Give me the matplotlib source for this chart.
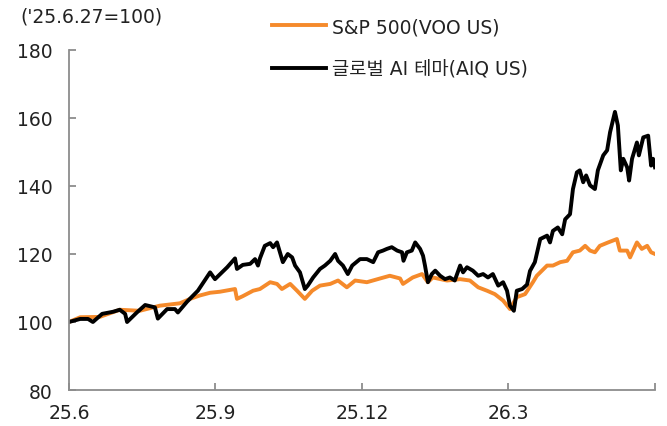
# S&P 500 vs global AI theme ETF, rebased to 100 on 25.6.27

import matplotlib.pyplot as plt

plt.rcParams['font.family'] = ['DejaVu Sans', 'Noto Sans CJK KR']

# data (x = months since 25.6)
# ---

aiq_month = [0.00, 0.23, 0.39, 0.49, 0.68, 0.90, 1.04, 1.15, 1.19, 1.39, 1.56, 1.76,
             1.82, 2.01, 2.17, 2.23, 2.42, 2.64, 2.89, 2.99, 3.24, 3.40, 3.44, 3.56,
             3.71, 3.81, 3.87, 3.91, 4.01, 4.12, 4.18, 4.26, 4.32, 4.38, 4.48, 4.57,
             4.63, 4.73, 4.83, 4.89, 5.00, 5.14, 5.24, 5.35, 5.45, 5.51, 5.61, 5.71,
             5.80, 5.96, 6.10, 6.23, 6.33, 6.43, 6.51, 6.61, 6.72, 6.82, 6.85, 6.92,
             7.02, 7.09, 7.19, 7.25, 7.29, 7.35, 7.43, 7.50, 7.60, 7.70, 7.80, 7.90,
             8.01, 8.07, 8.15, 8.27, 8.38, 8.48, 8.58, 8.68, 8.79, 8.89, 8.97, 9.03,
             9.11, 9.17, 9.28, 9.38, 9.44, 9.54, 9.65, 9.79, 9.85, 9.91, 10.01, 10.10,
             10.16, 10.26, 10.32, 10.40, 10.46, 10.53, 10.59, 10.67, 10.77, 10.83, 10.94, 11.02,
             11.08, 11.18, 11.24, 11.30, 11.35, 11.43, 11.47, 11.53, 11.63, 11.67, 11.76, 11.86,
             11.92, 11.96, 12.00]
aiq_value = [100.0, 100.9, 100.9, 100.0, 102.4, 103.0, 103.6, 102.4, 100.0, 102.8, 105.0, 104.3,
             101.0, 103.8, 103.8, 102.8, 106.0, 109.2, 114.6, 112.6, 116.1, 118.7, 115.6, 116.8,
             117.1, 118.5, 116.6, 118.7, 122.4, 123.2, 122.0, 123.4, 120.5, 117.6, 120.0, 119.0,
             116.6, 114.6, 109.7, 110.7, 113.1, 115.6, 116.6, 118.0, 120.0, 118.0, 116.6, 114.1,
             116.6, 118.5, 118.5, 117.6, 120.5, 121.0, 121.5, 122.0, 121.0, 120.5, 118.0, 120.5,
             121.0, 123.4, 121.5, 119.5, 116.6, 111.7, 114.1, 115.1, 113.6, 112.6, 113.1, 112.2,
             116.6, 114.6, 116.1, 115.1, 113.6, 114.1, 113.1, 114.1, 110.7, 111.7, 109.2, 104.8,
             103.3, 109.2, 109.7, 111.0, 115.0, 117.6, 124.4, 125.4, 123.4, 126.8, 127.8, 125.8,
             130.2, 131.7, 139.1, 144.0, 144.6, 141.1, 143.1, 140.2, 139.1, 144.6, 149.0, 150.5,
             155.8, 161.8, 157.8, 144.6, 148.0, 145.5, 141.6, 148.0, 152.8, 149.0, 154.3, 154.8,
             146.0, 148.0, 145.5]

voo_month = [0.00, 0.23, 0.63, 1.04, 1.45, 1.86, 2.27, 2.48, 2.68, 2.89, 3.09, 3.40,
             3.44, 3.56, 3.77, 3.91, 4.12, 4.26, 4.36, 4.53, 4.67, 4.83, 4.98, 5.14,
             5.35, 5.51, 5.69, 5.86, 6.10, 6.37, 6.57, 6.78, 6.84, 7.04, 7.23, 7.35,
             7.45, 7.74, 8.01, 8.21, 8.38, 8.56, 8.72, 8.89, 9.03, 9.17, 9.34, 9.50,
             9.58, 9.79, 9.91, 10.06, 10.20, 10.32, 10.46, 10.57, 10.67, 10.77, 10.87, 11.04,
             11.22, 11.28, 11.43, 11.49, 11.63, 11.73, 11.84, 11.92, 12.00]
voo_value = [100.0, 101.4, 101.5, 103.6, 103.3, 104.8, 105.5, 106.8, 107.8, 108.6, 108.9, 109.7,
             106.8, 107.6, 109.2, 109.7, 111.7, 111.2, 109.7, 111.2, 109.2, 106.8, 109.2, 110.7,
             111.2, 112.2, 110.2, 112.2, 111.7, 112.8, 113.6, 112.8, 111.2, 113.1, 114.1, 111.7,
             113.1, 112.2, 112.6, 112.2, 110.2, 109.2, 108.2, 106.3, 103.8, 107.3, 108.2, 111.7,
             113.6, 116.6, 116.6, 117.6, 118.0, 120.5, 121.0, 122.4, 121.0, 120.5, 122.4, 123.4,
             124.4, 121.0, 121.0, 119.0, 123.4, 121.5, 122.4, 120.5, 120.0]

tick_pos = [0, 3, 6, 9, 12]
tick_labels = ['25.6', '25.9', '25.12', '26.3', '']
yticks = [80, 100, 120, 140, 160, 180]


# plot
# ---

fig = plt.figure(figsize=(6.67, 4.27), dpi=100)
ax = fig.add_axes([0.1034, 0.0843, 0.8786, 0.7963])

ax.plot(voo_month, voo_value, color='#F58A2B', lw=2.8, label='S&P 500(VOO US)')
ax.plot(aiq_month, aiq_value, color='black', lw=2.8, label='글로벌 AI 테마(AIQ US)')

ax.set_xlim(0, 12)
ax.set_ylim(80, 180)
ax.set_xticks(tick_pos)
ax.set_xticklabels(tick_labels)
ax.set_yticks(yticks)

for side in ['top', 'right']:
    ax.spines[side].set_visible(False)
for side in ['left', 'bottom']:
    ax.spines[side].set_color('#8c8c8c')
    ax.spines[side].set_linewidth(1.3)

ax.tick_params(axis='both', direction='in', length=5, width=1.3, color='#8c8c8c',
               labelsize=13.5, labelcolor='#222222')
ax.tick_params(axis='y', pad=12)
ax.tick_params(axis='x', pad=9)

fig.text(0.03, 1 - 17 / 427, "('25.6.27=100)", fontsize=13.5, color='#222222', va='center')

fig.legend(loc='upper left', bbox_to_anchor=(272 / 667, 1 - 18 / 427), frameon=False,
           fontsize=13.5, handlelength=2.9, handletextpad=0.3, borderpad=0,
           borderaxespad=0, labelspacing=1.25, labelcolor='#222222')

fig.savefig('out.png')
